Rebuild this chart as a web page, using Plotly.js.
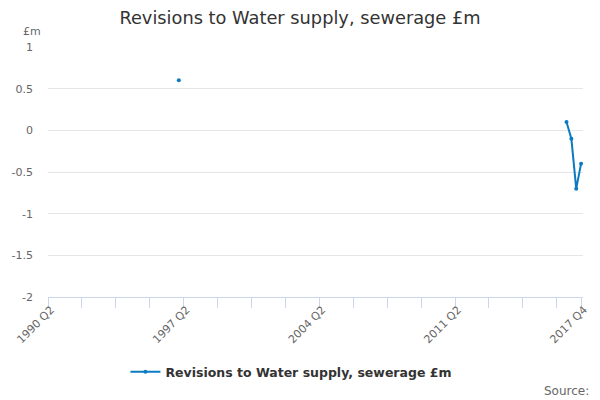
<!DOCTYPE html>
<html>
<head>
<meta charset="utf-8">
<script src="https://cdn.plot.ly/plotly-3.0.1.min.js"></script>
<style>
  body { margin: 0; }
  #chart { width: 600px; height: 400px; }
</style>
</head>
<body>
<div id="chart"></div>
<script>
// quarter categories, 1990 Q2 .. 2017 Q4
var quarters = [];
for (var yr = 1990; yr <= 2017; yr++) {
  for (var q = 1; q <= 4; q++) {
    if (yr == 1990 && q < 2) continue;
    quarters.push(yr + " Q" + q);
  }
}

// the revisions (null breaks the line between the two groups)
var periods = ["1997 Q1", "1997 Q2", "2017 Q1", "2017 Q2", "2017 Q3", "2017 Q4"];
var revisions = [0.6, null, 0.1, -0.1, -0.7, -0.4];

var seriesName = "Revisions to Water supply, sewerage £m";

// y ticks written with a plain hyphen like the original
var yTickVals = [1, 0.5, 0, -0.5, -1, -1.5, -2];
var yTickText = ["1", "0.5", "0", "-0.5", "-1", "-1.5", "-2"];

// tick every 7 quarters, label every 28, plus the last quarter
var tickVals = [];
var tickText = [];
for (var i = 0; i < quarters.length; i += 7) {
  tickVals.push(quarters[i]);
  tickText.push(i % 28 == 0 ? quarters[i] : "");
}
tickVals.push(quarters[quarters.length - 1]);
tickText.push(quarters[quarters.length - 1]);

var data = [
  {
    x: periods,
    y: revisions,
    name: seriesName,
    type: "scatter",
    mode: "lines+markers",
    connectgaps: false,
    line: { color: "#0b7bc1", width: 2 },
    marker: { color: "#0b7bc1", size: 4 }
  }
];

var layout = {
  width: 600,
  height: 400,
  margin: { l: 48, r: 17, t: 47, b: 103 },
  font: { family: "DejaVu Sans, sans-serif", color: "#666666" },
  title: {
    text: "Revisions to Water supply, sewerage £m",
    font: { size: 17.8, color: "#333333" },
    x: 0.5, xanchor: "center",
    y: 0.955, yanchor: "middle"
  },
  xaxis: {
    type: "category",
    categoryorder: "array",
    categoryarray: quarters,
    range: [0, 110.4],
    tickmode: "array",
    tickvals: tickVals,
    ticktext: tickText,
    tickangle: -45,
    ticks: "outside",
    ticklen: 10,
    tickcolor: "#ccd6eb",
    ticklabelstandoff: -9,
    ticklabelshift: 3,
    showline: true,
    linecolor: "#ccd6eb",
    showgrid: false,
    zeroline: false,
    tickfont: { size: 11, color: "#666666" }
  },
  yaxis: {
    range: [-2, 1],
    tickmode: "array",
    tickvals: yTickVals,
    ticktext: yTickText,
    showgrid: true,
    gridcolor: "#e6e6e6",
    zeroline: false,
    ticks: "",
    ticklabelstandoff: 14,
    tickfont: { size: 11, color: "#666666" }
  },
  showlegend: true,
  legend: {
    orientation: "h",
    x: 0.455, xanchor: "center",
    y: -0.3, yanchor: "middle",
    font: { size: 12.5, color: "#333333", weight: "bold" }
  },
  annotations: [
    {
      text: "£m",
      xref: "paper", yref: "paper",
      x: -0.03, y: 1.06,
      xanchor: "center", yanchor: "middle",
      showarrow: false,
      font: { size: 11, color: "#666666" }
    },
    {
      text: "Source:",
      xref: "paper", yref: "paper",
      x: 1.015, y: -0.375,
      xanchor: "right", yanchor: "middle",
      showarrow: false,
      font: { size: 12, color: "#666666" }
    }
  ]
};

Plotly.newPlot("chart", data, layout, { displayModeBar: false });
</script>
</body>
</html>
